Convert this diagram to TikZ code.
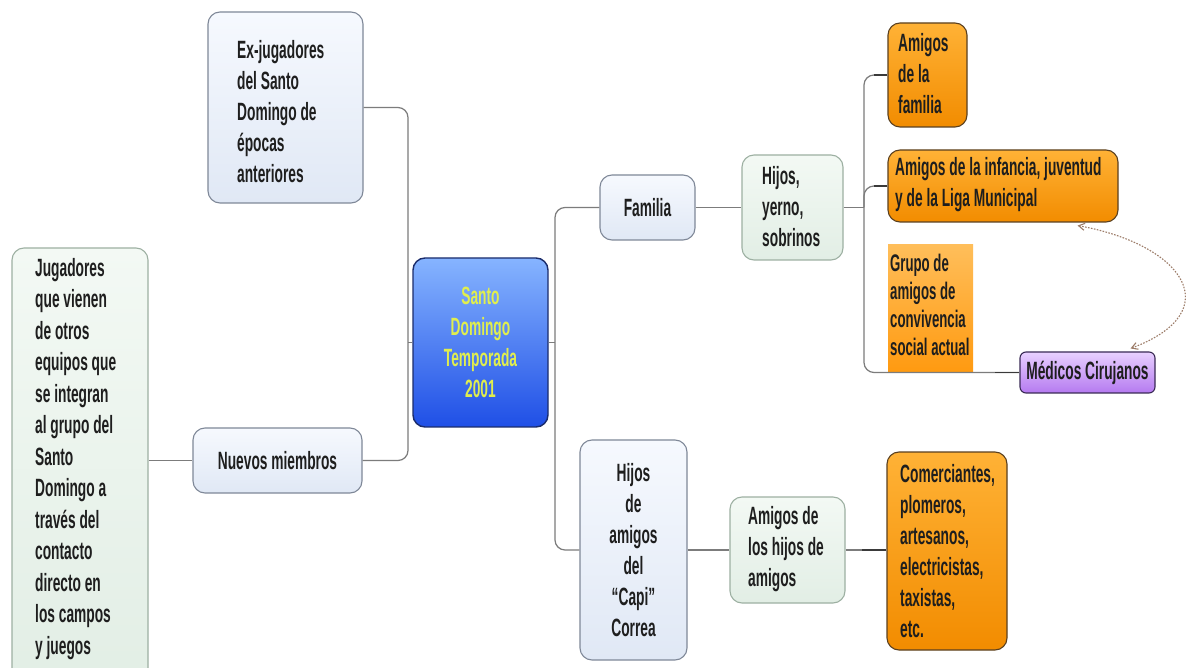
\documentclass[tikz,border=0pt]{standalone}
\usepackage{fontspec}
\setmainfont{Liberation Sans}[FakeStretch=0.55]
\usetikzlibrary{arrows.meta,calc}
\definecolor{txtc}{HTML}{1E1E1E}
\definecolor{connc}{HTML}{7C7C7C}
\definecolor{conndk}{HTML}{3A3A3A}
\definecolor{blueT}{HTML}{F6F9FE}
\definecolor{blueB}{HTML}{E0E8F5}
\definecolor{blueD}{HTML}{7F8898}
\definecolor{greenT}{HTML}{F3F9F4}
\definecolor{greenB}{HTML}{E2EEE5}
\definecolor{greenD}{HTML}{9DB0A2}
\definecolor{orT}{HTML}{FFB236}
\definecolor{orB}{HTML}{F28C00}
\definecolor{orD}{HTML}{5A4020}
\definecolor{grT}{HTML}{FFBE5A}
\definecolor{grB}{HTML}{FF9A10}
\definecolor{puT}{HTML}{E8D0FF}
\definecolor{puB}{HTML}{B57AF0}
\definecolor{puD}{HTML}{3A2A55}
\definecolor{ceT}{HTML}{86B4FF}
\definecolor{ceB}{HTML}{1F4FE6}
\definecolor{ceD}{HTML}{1B2C6B}
\definecolor{ceTxt}{HTML}{E0EE4E}
\definecolor{relc}{HTML}{9C7C68}
\newcommand\myfs{\fontsize{25}{31}\selectfont\bfseries}
\newcommand\myfsb{\fontsize{25}{31.5}\selectfont\bfseries}
\newcommand\myfsg{\fontsize{24}{28}\selectfont\bfseries}
\begin{document}
\begin{tikzpicture}[x=1pt,y=-1pt,
  boxbase/.style={rounded corners=12pt, line width=1.1pt, inner sep=0pt, font=\myfs, text=txtc, align=center},
  bluebox/.style={boxbase, draw=blueD, top color=blueT, bottom color=blueB},
  greenbox/.style={boxbase, draw=greenD, top color=greenT, bottom color=greenB},
  orbox/.style={boxbase, draw=orD, top color=orT, bottom color=orB},
  pubox/.style={boxbase, rounded corners=6pt, draw=puD, top color=puT, bottom color=puB},
  cebox/.style={boxbase, draw=ceD, line width=1.4pt, top color=ceT, bottom color=ceB, text=ceTxt},
  grbox/.style={inner sep=0pt, top color=grT, bottom color=grB},
  txt/.style={inner sep=0pt, font=\myfs, text=txtc, align=left, anchor=west},
  conn/.style={draw=connc, line width=1.2pt, rounded corners=10pt},
  conndark/.style={draw=conndk, line width=1.3pt},
  rel/.style={draw=relc, line width=1.1pt, dash pattern=on 1.6pt off 1.4pt,
     {Straight Barb[length=6pt,width=7pt]}-{Straight Barb[length=6pt,width=7pt]}}
]
\fill[white] (0,0) rectangle (1187,668);
\useasboundingbox (0,0) rectangle (1187,668);

% left side
\node[bluebox, minimum width=155pt, minimum height=191pt] (ex) at (285.5,107.5) {};
\node[txt] (ext) at (237,111.5) {Ex-jugadores\\del Santo\\Domingo de\\épocas\\anteriores};
\node[greenbox, minimum width=136pt, minimum height=442pt] (jug) at (80,469) {};
\node[txt, font=\myfsb] (jugt) at (35,459) {Jugadores\\que vienen\\de otros\\equipos que\\se integran\\al grupo del\\Santo\\Domingo a\\través del\\contacto\\directo en\\los campos\\y juegos};
\node[bluebox, minimum width=169pt, minimum height=65pt] (nuevos) at (277.5,460.5) {Nuevos miembros};

% centre
\node[cebox, minimum width=135pt, minimum height=169pt] (centro) at (480.5,342.5) {Santo\\Domingo\\Temporada\\2001};

% right side
\node[bluebox, minimum width=95pt, minimum height=65pt] (familia) at (647.5,207.5) {Familia};
\node[greenbox, minimum width=101pt, minimum height=105pt] (hyerno) at (792.5,207.5) {};
\node[txt] (hyernot) at (762,207) {Hijos,\\yerno,\\sobrinos};
\node[bluebox, minimum width=107pt, minimum height=220pt] (hamigos) at (633.5,550) {Hijos\\de\\amigos\\del\\“Capi”\\Correa};
\node[greenbox, minimum width=115pt, minimum height=106pt] (ahijos) at (787.5,550) {};
\node[txt] (ahijost) at (748,549) {Amigos de\\los hijos de\\amigos};
\node[orbox, minimum width=120pt, minimum height=198pt] (comerc) at (947,551) {};
\node[txt] (comerct) at (900,551.5) {Comerciantes,\\plomeros,\\artesanos,\\electricistas,\\taxistas,\\etc.};
\node[orbox, minimum width=79pt, minimum height=104pt] (amfam) at (927.5,75) {};
\node[txt] (amfamt) at (898,74) {Amigos\\de la\\familia};
\node[orbox, minimum width=230pt, minimum height=72pt] (aminf) at (1003,186) {};
\node[txt] (aminft) at (895,185) {Amigos de la infancia, juventud\\y de la Liga Municipal};
\node[grbox, minimum width=85pt, minimum height=127pt] (grupo) at (930.5,308.5) {};
\node[txt, font=\myfsg] (grupot) at (890,305) {Grupo de\\amigos de\\convivencia\\social actual};
\node[pubox, minimum width=135pt, minimum height=41pt] (medicos) at (1087.5,372.5) {Médicos Cirujanos};

% connectors left
\coordinate (sl) at (408,342.5);
\draw[conn] (ex.east) -| (sl) |- (nuevos.east);
\draw[conn] (sl) -- (centro.west);
\draw[conn] (jug.east |- nuevos.west) -- (nuevos.west);

% connectors right
\coordinate (sr) at (555,342.5);
\draw[conn] (centro.east) -- (sr);
\draw[conn] (familia.west) -| (sr) |- (hamigos.west);
\draw[conn] (familia.east) -- (hyerno.west);
\draw[conn] (hamigos.east) -- (ahijos.west);
\draw[conn] (ahijos.east) -- (comerc.west |- ahijos.east);
\coordinate (sh) at (864,207.5);
\draw[conn] (hyerno.east) -- (sh);
\draw[conn] (amfam.west) -| (sh) |- (medicos.west);
\draw[conn] (sh) |- (aminf.west);
% darker ends of the branches
\draw[conndark] (amfam.west) -- ++(-13,0);
\draw[conndark] (aminf.west) -- ++(-13,0);
\draw[conndark] (medicos.west) -- ++(-24,0);
\draw[conndark] (comerc.west |- ahijos.east) -- ++(-24,0);

% relation
\draw[rel] ($(aminf.south east)+(-41,3)$) .. controls (1185,245) and (1228,312) .. ($(medicos.north east)+(-25,-3)$);
\end{tikzpicture}
\end{document}
